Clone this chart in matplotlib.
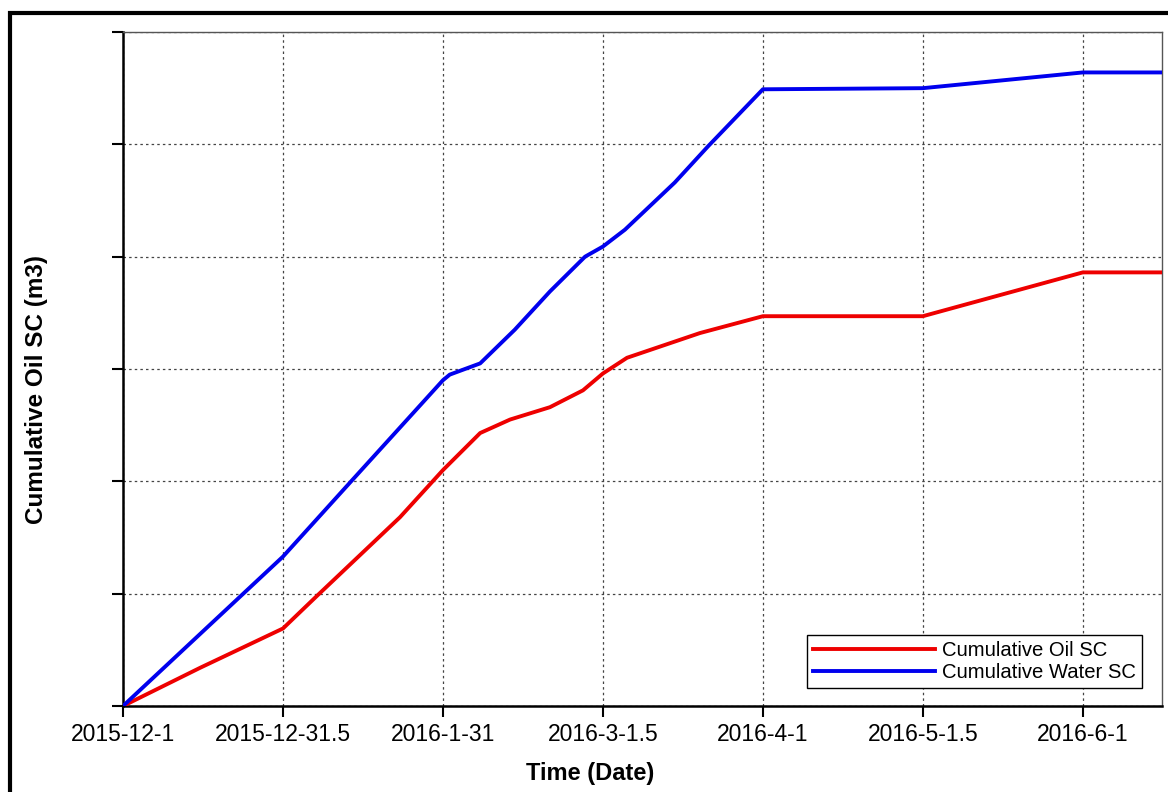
import matplotlib
matplotlib.use("Agg")
import matplotlib.pyplot as plt
from matplotlib.patches import Rectangle

plt.rcParams['font.family'] = ['Liberation Sans', 'DejaVu Sans']

# days since 2015-12-1
tick_days = [0, 30.5, 61, 91.5, 122, 152.5, 183]
tick_labels = ['2015-12-1', '2015-12-31.5', '2016-1-31', '2016-3-1.5',
               '2016-4-1', '2016-5-1.5', '2016-6-1']

oil_days = [0, 14.7, 30.5, 37.2, 52.8, 61.0, 68.1, 73.8, 81.4, 87.7, 91.5,
            96.1, 110.0, 122.0, 152.5, 183.0, 198.1]
oil_cum = [0, 0.34, 0.69, 0.99, 1.68, 2.10, 2.43, 2.55, 2.66, 2.81, 2.96,
           3.10, 3.32, 3.47, 3.47, 3.86, 3.86]

water_days = [0, 30.5, 43.3, 61.0, 62.3, 68.1, 74.7, 81.4, 88.1, 91.5, 95.7,
              105.2, 111.5, 122.0, 152.5, 183.0, 198.1]
water_cum = [0, 1.33, 1.99, 2.90, 2.95, 3.05, 3.35, 3.69, 4.00, 4.09, 4.24,
             4.66, 4.98, 5.49, 5.50, 5.64, 5.64]

fig = plt.figure(figsize=(11.68, 7.92), dpi=100)
ax = fig.add_axes([123/1168, 1 - 706/792, 1039/1168, 674/792])

ax.plot(oil_days, oil_cum, color='#ee0000', lw=2.8, label='Cumulative Oil SC', zorder=3)
ax.plot(water_days, water_cum, color='#0000ee', lw=2.8, label='Cumulative Water SC', zorder=3)

ax.set_xlim(0, 198.1)
ax.set_ylim(0, 6)
ax.set_xticks(tick_days)
ax.set_xticklabels(tick_labels, fontsize=16.5)
ax.set_yticks(range(7))
ax.set_yticklabels([])
ax.tick_params(direction='out', length=8, width=1.5, pad=4, colors='black')

ax.grid(True, color='#444444', linestyle=(0, (2, 2.5)), lw=0.9)

for side in ['left', 'bottom']:
    ax.spines[side].set_linewidth(1.8)
    ax.spines[side].set_color('black')
for side in ['top', 'right']:
    ax.spines[side].set_linewidth(1.0)
    ax.spines[side].set_color('#555555')

ax.set_xlabel('Time (Date)', fontsize=17, fontweight='bold')
ax.set_ylabel('Cumulative Oil SC (m3)', fontsize=17.5, fontweight='bold')
ax.xaxis.set_label_coords(0.4495, -0.0830)
ax.yaxis.set_label_coords(-0.0722, 0.47)

leg = ax.legend(loc='lower right', bbox_to_anchor=(0.9808, 0.0267), borderaxespad=0,
                fontsize=14.6, handlelength=6.0, handletextpad=0.35, labelspacing=0.15,
                borderpad=0.3, fancybox=False, framealpha=1, edgecolor='black')
leg.get_frame().set_linewidth(1.0)

# outer frame around the whole figure
fig.patches.append(Rectangle((10/1168, -0.1), 1.2, 1.1 - 13/792, transform=fig.transFigure,
                             fill=False, edgecolor='black', lw=3.0))

fig.savefig('out.png', dpi=100)
